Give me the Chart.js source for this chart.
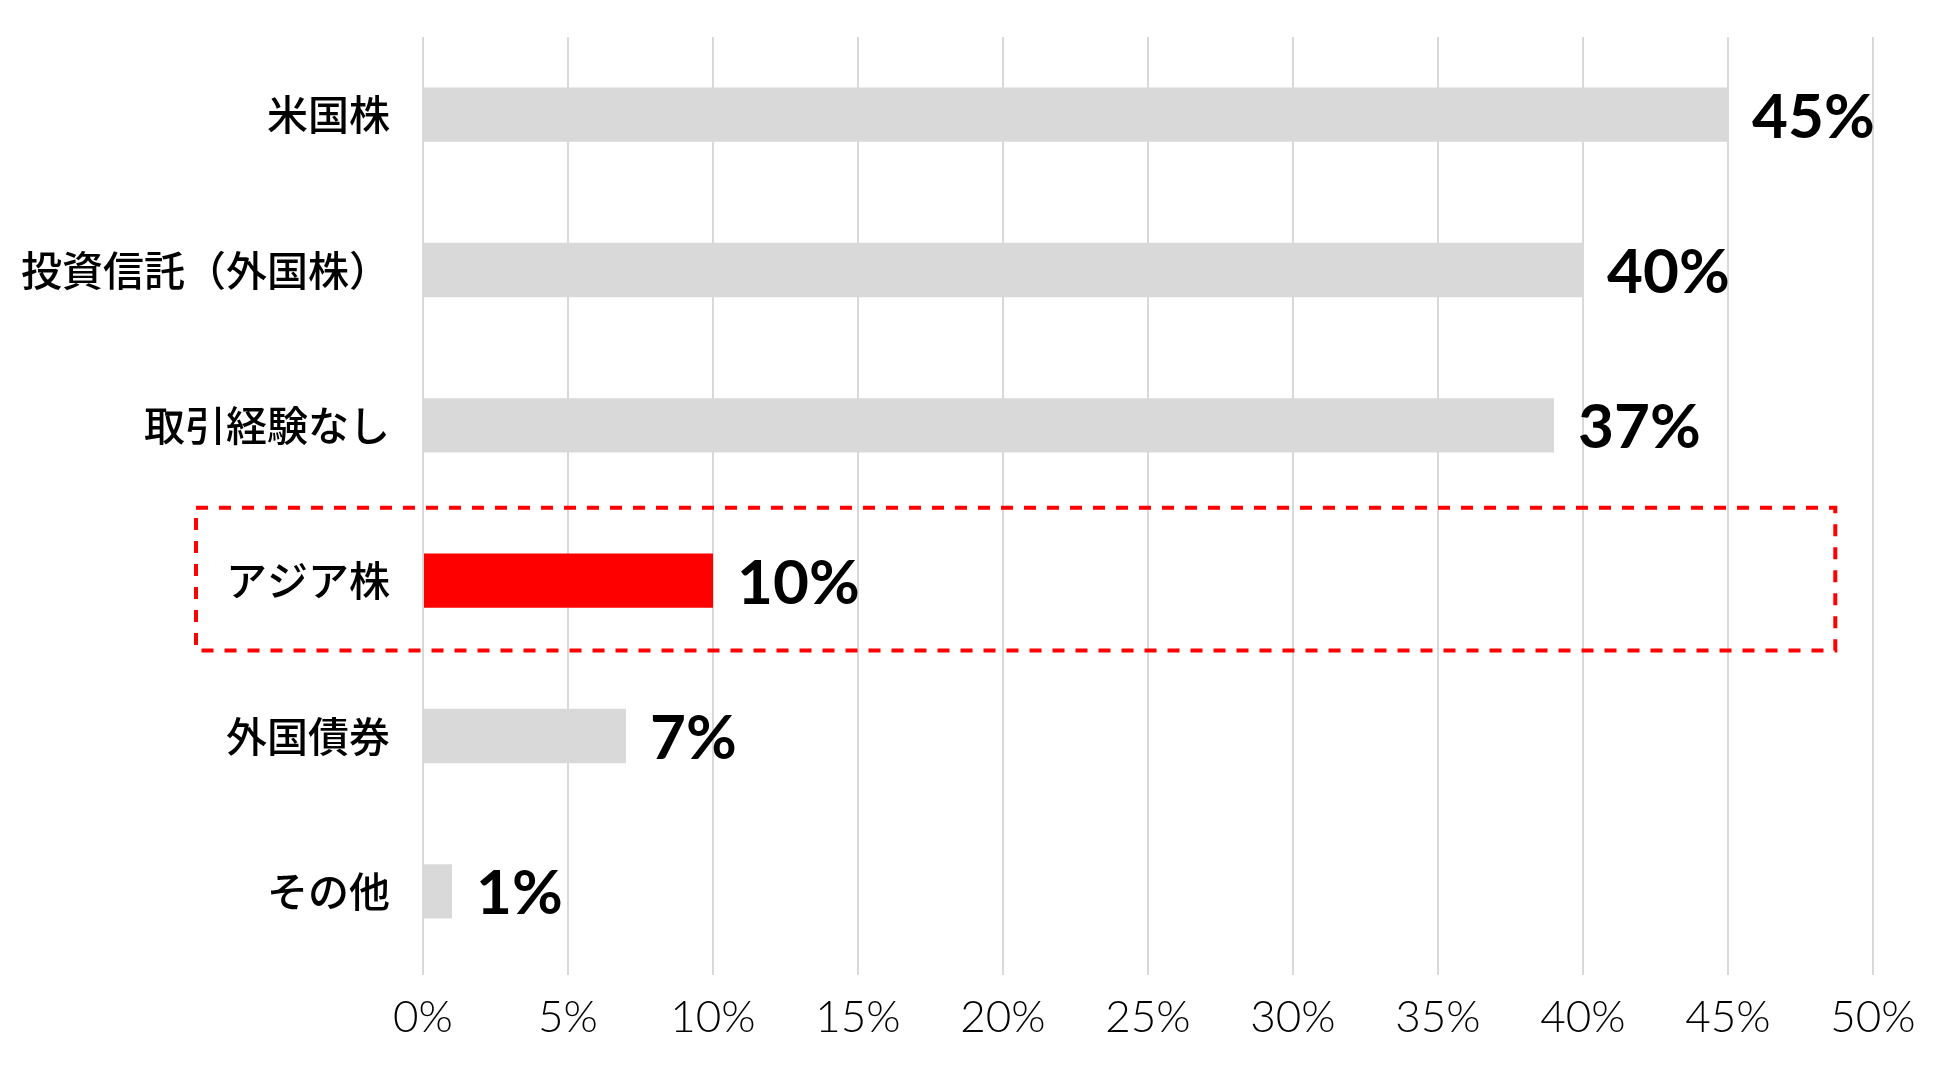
<!DOCTYPE html>
<html lang="ja">
<head>
    <meta charset="UTF-8">
    <title>外国株の取引経験</title>
    <script src="https://cdn.jsdelivr.net/npm/chart.js"></script>
    <style>
        body {
            margin: 0;
            padding: 0;
            background-color: #ffffff;
        }
        canvas {
            display: block;
        }
    </style>
</head>
<body>
    <canvas id="barChart" width="1950" height="1066"></canvas>

    <script>
        // Données
        const categories = ['米国株', '投資信託（外国株）', '取引経験なし', 'アジア株', '外国債券', 'その他'];
        const barValues = [45, 40, 39, 10, 7, 1];           // longueur des barres
        const valueLabels = ['45%', '40%', '37%', '10%', '7%', '1%']; // textes affichés
        const highlightIndex = 3;                            // アジア株
        const xTicks = [0, 5, 10, 15, 20, 25, 30, 35, 40, 45, 50];

        const barColors = categories.map((c, i) => i === highlightIndex ? '#ff0000' : '#d9d9d9');

        // Étiquettes de valeur à droite des barres
        const valueLabelPlugin = {
            id: 'valueLabels',
            afterDatasetsDraw(chart) {
                const ctx = chart.ctx;
                const meta = chart.getDatasetMeta(0);
                ctx.save();
                ctx.font = 'bold 62px Lato, "Noto Sans", sans-serif';
                ctx.fillStyle = '#000000';
                ctx.textAlign = 'left';
                ctx.textBaseline = 'middle';
                meta.data.forEach((bar, i) => {
                    ctx.fillText(valueLabels[i], bar.x + 24, bar.y + 3);
                });
                ctx.restore();
            }
        };

        // Cadre rouge en pointillés autour de la ligne mise en avant
        const highlightBoxPlugin = {
            id: 'highlightBox',
            afterDraw(chart) {
                const ctx = chart.ctx;
                const x = chart.scales.x;
                const y = chart.scales.y;
                const step = y.getPixelForValue(1) - y.getPixelForValue(0);
                const cy = y.getPixelForValue(highlightIndex);
                const left = chart.chartArea.left - 227;
                const right = x.getPixelForValue(48.7);
                const top = cy - step * 0.47;
                const bottom = cy + step * 0.45;
                ctx.save();
                ctx.strokeStyle = '#ff0000';
                ctx.lineWidth = 4;
                ctx.setLineDash([12, 11]);
                ctx.strokeRect(left, top, right - left, bottom - top);
                ctx.restore();
            }
        };

        const ctx = document.getElementById('barChart').getContext('2d');

        new Chart(ctx, {
            type: 'bar',
            data: {
                labels: categories,
                datasets: [{
                    data: barValues,
                    backgroundColor: barColors,
                    borderWidth: 0,
                    barPercentage: 0.35,
                    categoryPercentage: 1.0
                }]
            },
            options: {
                indexAxis: 'y',
                responsive: false,
                devicePixelRatio: 1,
                animation: false,
                layout: {
                    padding: { top: 37, right: 77, left: 0, bottom: 0 }
                },
                scales: {
                    x: {
                        min: 0,
                        max: 50,
                        afterBuildTicks: scale => {
                            scale.ticks = xTicks.map(v => ({ value: v }));
                        },
                        afterFit: scale => {
                            scale.height = 97;
                        },
                        ticks: {
                            callback: v => v + '%',
                            color: '#000000',
                            padding: 16,
                            maxRotation: 0,
                            font: { family: 'Lato, "Noto Sans", sans-serif', size: 44, weight: 300 }
                        },
                        grid: {
                            color: '#d9d9d9',
                            lineWidth: 2,
                            tickLength: 6
                        },
                        border: { display: false }
                    },
                    y: {
                        afterFit: scale => {
                            scale.width = 423;
                            scale.paddingTop = 0;
                            scale.paddingBottom = 0;
                        },
                        ticks: {
                            color: '#000000',
                            padding: 25,
                            font: { family: '"Noto Sans CJK JP", sans-serif', size: 41, weight: 500 }
                        },
                        grid: { display: false },
                        border: { display: false }
                    }
                },
                plugins: {
                    legend: { display: false },
                    tooltip: { enabled: false }
                }
            },
            plugins: [valueLabelPlugin, highlightBoxPlugin]
        });
    </script>
</body>
</html>
